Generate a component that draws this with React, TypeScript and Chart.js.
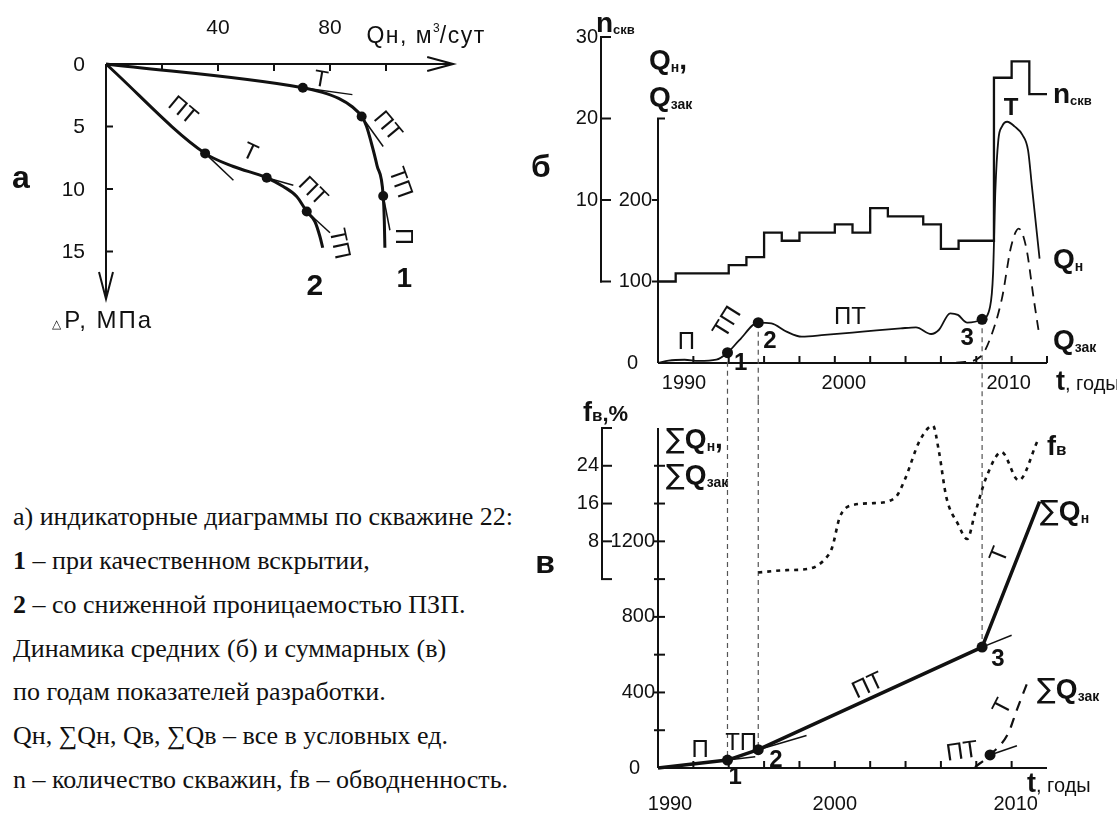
import React, { useEffect, useRef } from "react";
import { Chart, registerables } from "chart.js";

Chart.register(...registerables);

const SANS = '"Liberation Sans", Arial, Helvetica, sans-serif';
const SERIF = '"Liberation Serif", "Times New Roman", Times, serif';
const SIGMA_FONT = '"DejaVu Sans", "Liberation Sans", sans-serif';
const INK = "#111";

// ---------------- а: indicator diagrams (Q, m3/day vs dP, MPa) ----------------
const A_Q_TICKS = [20, 40, 60, 80, 100];
const A_Q_TICK_LABELS = [40, 80];
const A_P_TICKS = [5, 10, 15];
const A_P_TICK_LABELS = [0, 5, 10, 15];
const A_CURVE1_Q = [0, 70.3, 77.3, 83.1, 87.8, 91.3, 93.0, 94.7, 96.8, 99.0, 99.4, 99.6];
const A_CURVE1_P = [0, 1.9, 2.27, 2.75, 3.4, 4.2, 4.96, 6.26, 8.13, 10.56, 12.6, 14.7];
const A_CURVE1_DOTS = [1, 5, 9];
const A_CURVE2_Q = [0, 35.4, 45.5, 57.4, 63.3, 68.1, 71.7, 74.6, 76.4, 77.4];
const A_CURVE2_P = [0, 7.15, 8.2, 9.1, 9.8, 10.6, 11.8, 12.6, 13.8, 14.7];
const A_CURVE2_DOTS = [1, 3, 6];
const A_TANGENT_Q = [[70.3, 88], [91.3, 99], [99.0, 101.4], [35.4, 45.5], [57.4, 66.9], [71.7, 80]];
const A_TANGENT_P = [[1.9, 2.45], [4.2, 6.6], [10.56, 13.3], [7.15, 9.3], [9.1, 9.7], [11.8, 13.5]];

// ---------------- б: yearly averages ----------------
const YEAR_LABELS = [1990, 2000, 2010];
const B_YEAR_TICKS = [1992, 1994, 1996, 1998, 2000, 2002, 2004, 2006, 2008, 2010, 2012];
const B_Q_TICKS = [100, 200];
const B_N_TICKS = [0, 10, 20, 30];
const B_N_TICK_LABELS = [10, 20, 30];
const B_QN_YEARS = [1990, 1990.6, 1991.5, 1992.3, 1993.3, 1993.93, 1994.6, 1995.67, 1996.41, 1997.27, 1998.13, 1999.42, 2001.57, 2003.73, 2004.59, 2005.45, 2005.88, 2006.53, 2006.96, 2007.49, 2008.33, 2008.78, 2008.95, 2009.08, 2009.25, 2009.45, 2009.75, 2010.18, 2010.61, 2010.93, 2011.15, 2011.58];
const B_QN = [0, 3, 4, 2.5, 4, 12.6, 28, 49.5, 48.6, 38.5, 32.3, 34.4, 38.4, 42.5, 43.8, 35.6, 40.5, 61, 59, 49.5, 53.6, 69, 110, 212, 274, 290, 296, 290, 280, 261, 216, 128];
const B_KEY_POINTS = [5, 7, 20];
const B_QZ_YEARS = [2005.9, 2007.2, 2008.25, 2008.75, 2009.45, 2009.97, 2010.4, 2010.83, 2011.26, 2011.58];
const B_QZ = [0, 1, 8, 28, 79, 143, 165, 141, 77, 32];
const B_N_YEARS = [1990, 1991, 1994, 1995, 1996, 1997, 1998, 2000, 2001, 2002, 2003, 2005, 2006, 2007, 2009, 2010, 2011, 2012];
const B_N = [0, 1, 2, 3, 6, 5, 6, 7, 6, 9, 8, 7, 4, 5, 25, 27, 23, 23];

// ---------------- в: cumulative values ----------------
const C_YEAR_TICKS = [1992, 1994, 1996, 1998, 2000, 2002, 2004, 2006, 2008, 2010];
const C_SUM_TICKS = [200, 400, 600, 800, 1000, 1200, 1400, 1600];
const C_SUM_TICK_LABELS = [400, 800, 1200];
const C_F_TICKS = [0, 8, 16, 24, 32];
const C_F_TICK_LABELS = [8, 16, 24];
const C_SUMN_YEARS = [1990, 1993.93, 1995.67, 2008.33, 2011.58];
const C_SUMN = [0, 42, 97, 640, 1410];
const C_SUMN_DOTS = [1, 2, 3];
const C_SUMZ_YEARS = [2007.93, 2008.78, 2009.81, 2010.29, 2010.95];
const C_SUMZ = [5, 69, 184, 307, 466];
const C_SUMZ_DOTS = [1];
const C_F_YEARS = [1995.67, 1997.27, 1998.56, 1999.53, 1999.85, 2000.28, 2000.92, 2002.22, 2003.4, 2003.94, 2004.8, 2005.55, 2005.88, 2006.31, 2006.96, 2007.49, 2007.92, 2008.57, 2009.43, 2010.4, 2011.47];
const C_F = [1.4, 1.9, 2.2, 4.6, 6.7, 13.1, 15.6, 16.1, 17.2, 20.9, 29.3, 32.5, 27.2, 17.3, 11.7, 8.5, 13.8, 21.6, 26.9, 20.9, 29.3];
const C_TANGENT_YEARS = [[1993.93, 1995.5], [1995.67, 1998.4], [2008.33, 2010], [2008.78, 2010.3]];
const C_TANGENT_SUM = [[42, 59], [97, 172], [640, 703], [69, 118]];

const CAPTION_LINES = [
  { bold: "", text: "а) индикаторные диаграммы по скважине 22:" },
  { bold: "1", text: " – при качественном вскрытии," },
  { bold: "2", text: " – со сниженной проницаемостью ПЗП." },
  { bold: "", text: "Динамика средних (б) и суммарных (в)" },
  { bold: "", text: "по годам показателей разработки." },
  { bold: "", text: "Qн, ∑Qн, Qв, ∑Qв – все в условных ед." },
  { bold: "", text: "n – количество скважин, fв – обводненность." },
];

// ---------------- helpers ----------------
const pts = (xs: number[], ys: number[]) => xs.map((x, i) => ({ x, y: ys[i] }));
const font = (size: number, bold = false) => `${bold ? "bold " : ""}${size}px ${SANS}`;

function seg(ctx: CanvasRenderingContext2D, x1: number, y1: number, x2: number, y2: number) {
  ctx.beginPath();
  ctx.moveTo(x1, y1);
  ctx.lineTo(x2, y2);
  ctx.stroke();
}

type Part = { t: string; f: string; dy?: number; ls?: number };
function rich(ctx: CanvasRenderingContext2D, x: number, y: number, parts: Part[], align = "left") {
  ctx.save();
  ctx.textBaseline = "alphabetic";
  ctx.textAlign = "left";
  const c: any = ctx;
  const widths = parts.map((p) => {
    ctx.font = p.f;
    c.letterSpacing = `${p.ls || 0}px`;
    return ctx.measureText(p.t).width;
  });
  const w = widths.reduce((a, b) => a + b, 0);
  let cx = align === "left" ? x : align === "center" ? x - w / 2 : x - w;
  parts.forEach((p, i) => {
    ctx.font = p.f;
    c.letterSpacing = `${p.ls || 0}px`;
    ctx.fillText(p.t, cx, y + (p.dy || 0));
    cx += widths[i];
  });
  c.letterSpacing = "0px";
  ctx.restore();
}

function rotText(ctx: CanvasRenderingContext2D, t: string, x: number, y: number, deg: number, f: string) {
  ctx.save();
  ctx.translate(x, y);
  ctx.rotate((deg * Math.PI) / 180);
  ctx.font = f;
  ctx.textAlign = "center";
  ctx.textBaseline = "middle";
  ctx.fillText(t, 0, 0);
  ctx.restore();
}

function arrowHead(ctx: CanvasRenderingContext2D, tx: number, ty: number, dx: number, dy: number, len: number, half: number) {
  const bx = tx - dx * len, by = ty - dy * len;
  const px = -dy * half, py = dx * half;
  ctx.beginPath();
  ctx.moveTo(bx + px, by + py);
  ctx.lineTo(tx, ty);
  ctx.lineTo(bx - px, by - py);
  ctx.stroke();
}

const baseOptions = (padding: any, scales: any) => ({
  responsive: false,
  maintainAspectRatio: false,
  animation: false,
  devicePixelRatio: 1,
  events: [],
  layout: { padding, autoPadding: false },
  plugins: { legend: { display: false }, tooltip: { enabled: false }, colors: { enabled: false } },
  scales,
});

const lineDs = (data: any, extra: any = {}) => ({
  data,
  borderColor: INK,
  backgroundColor: INK,
  pointBackgroundColor: INK,
  pointBorderWidth: 0,
  pointRadius: 0,
  fill: false,
  clip: false,
  tension: 0,
  ...extra,
});

// ---------------- panel а ----------------
function makeA() {
  const draw = {
    id: "drawA",
    beforeDatasetsDraw(chart: any) {
      const ctx = chart.ctx as CanvasRenderingContext2D;
      const X = (v: number) => chart.scales.x.getPixelForValue(v);
      const Y = (v: number) => chart.scales.y.getPixelForValue(v);
      ctx.save();
      ctx.strokeStyle = INK;
      ctx.fillStyle = INK;
      ctx.lineWidth = 2;
      seg(ctx, X(0), Y(0), X(124), Y(0));
      arrowHead(ctx, X(124), Y(0), 1, 0, 26, 7);
      A_Q_TICKS.forEach((v) => seg(ctx, X(v), Y(0), X(v), Y(0) + 7));
      seg(ctx, X(0), Y(0), X(0), Y(18.8));
      arrowHead(ctx, X(0), Y(18.8), 0, 1, 27, 7);
      A_P_TICKS.forEach((v) => seg(ctx, X(0), Y(v), X(0) + 7, Y(v)));
      ctx.font = font(21);
      ctx.textBaseline = "middle";
      ctx.textAlign = "right";
      A_P_TICK_LABELS.forEach((v) => ctx.fillText(String(v), X(0) - 21, Y(v) + 1));
      ctx.textAlign = "center";
      A_Q_TICK_LABELS.forEach((v) => ctx.fillText(String(v), X(v), Y(0) - 36));
      rich(ctx, X(93), Y(0) - 21, [
        { t: "Qн, м", f: font(23), ls: 1.5 },
        { t: "3", f: font(12), dy: -11 },
        { t: "/сут", f: font(23), ls: 1.5 },
      ]);
      rich(ctx, X(0) - 54, Y(18.8) + 29, [
        { t: "△ ", f: font(12) },
        { t: "P, МПа", f: font(24), ls: 2 },
      ]);
      ctx.restore();
    },
    afterDatasetsDraw(chart: any) {
      const ctx = chart.ctx as CanvasRenderingContext2D;
      const X = (v: number) => chart.scales.x.getPixelForValue(v);
      const Y = (v: number) => chart.scales.y.getPixelForValue(v);
      ctx.save();
      ctx.fillStyle = INK;
      const labels: [string, number, number, number][] = [
        ["Т", 76.7, 1.28, 10],
        ["ПТ", 100.5, 5.0, 50],
        ["ТП", 105, 9.5, 70],
        ["П", 106, 13.8, 90],
        ["ПТ", 27.3, 3.75, 40],
        ["Т", 51.4, 7.1, 25],
        ["ПТ", 73.75, 10.2, 45],
        ["ТП", 83.2, 14.4, 78],
      ];
      labels.forEach(([t, q, p, r]) => rotText(ctx, t, X(q), Y(p), r, font(23)));
      rich(ctx, X(106.5), Y(17.8), [{ t: "1", f: font(28, true) }], "center");
      rich(ctx, X(74.6), Y(18.5), [{ t: "2", f: font(30, true) }], "center");
      rich(ctx, X(0) - 94, Y(9.9), [{ t: "а", f: font(32, true) }]);
      ctx.restore();
    },
  };
  const datasets: any[] = [
    lineDs(pts(A_CURVE1_Q, A_CURVE1_P), {
      borderWidth: 3,
      cubicInterpolationMode: "monotone",
      pointRadius: (c: any) => (A_CURVE1_DOTS.includes(c.dataIndex) ? 5 : 0),
    }),
    lineDs(pts(A_CURVE2_Q, A_CURVE2_P), {
      borderWidth: 3,
      cubicInterpolationMode: "monotone",
      pointRadius: (c: any) => (A_CURVE2_DOTS.includes(c.dataIndex) ? 5 : 0),
    }),
    ...A_TANGENT_Q.map((qs, i) => lineDs(pts(qs, A_TANGENT_P[i]), { borderWidth: 1.5 })),
  ];
  return {
    type: "line",
    data: { datasets },
    options: baseOptions(
      { left: 106, top: 64, right: 520 - 106 - 121 * 2.8, bottom: 340 - 64 - 19 * 12.5 },
      {
        x: { type: "linear", min: 0, max: 121, display: false },
        y: { type: "linear", min: 0, max: 19, reverse: true, display: false },
      }
    ),
    plugins: [draw],
  };
}

// ---------------- panel б ----------------
function makeB() {
  const draw = {
    id: "drawB",
    beforeDatasetsDraw(chart: any) {
      const ctx = chart.ctx as CanvasRenderingContext2D;
      const X = (v: number) => chart.scales.x.getPixelForValue(v);
      const Y = (v: number) => chart.scales.y.getPixelForValue(v);
      const N = (v: number) => chart.scales.n.getPixelForValue(v);
      const x0 = X(1990);
      const xn = x0 - 57;
      ctx.save();
      ctx.strokeStyle = INK;
      ctx.fillStyle = INK;
      ctx.lineWidth = 2;
      seg(ctx, x0, Y(0), x0, Y(300));
      seg(ctx, x0 - 1, Y(300), x0 + 7, Y(300));
      B_Q_TICKS.forEach((v) => seg(ctx, x0 - 6, Y(v), x0, Y(v)));
      seg(ctx, xn, N(0) + 1, xn, N(30) - 1);
      B_N_TICKS.forEach((v) => seg(ctx, xn - 1, N(v), xn + 10, N(v)));
      seg(ctx, x0, Y(0), X(2012), Y(0));
      B_YEAR_TICKS.forEach((v) => seg(ctx, X(v), Y(0), X(v), Y(0) - 7));
      ctx.font = font(20);
      ctx.textBaseline = "middle";
      ctx.textAlign = "right";
      B_Q_TICKS.forEach((v) => ctx.fillText(String(v), x0 - 6, Y(v)));
      ctx.fillText("0", x0 - 20, Y(0));
      B_N_TICK_LABELS.forEach((v) => ctx.fillText(String(v), xn - 3, N(v)));
      ctx.textAlign = "center";
      const off = [26, 9, -3];
      YEAR_LABELS.forEach((v, i) => ctx.fillText(String(v), X(v) + off[i], Y(0) + 20));
      ctx.setLineDash([5, 4]);
      ctx.lineWidth = 1.2;
      ctx.strokeStyle = "#555";
      B_KEY_POINTS.forEach((i) => seg(ctx, X(B_QN_YEARS[i]), Y(B_QN[i]), X(B_QN_YEARS[i]), chart.height));
      ctx.restore();
    },
    afterDatasetsDraw(chart: any) {
      const ctx = chart.ctx as CanvasRenderingContext2D;
      const X = (v: number) => chart.scales.x.getPixelForValue(v);
      const Y = (v: number) => chart.scales.y.getPixelForValue(v);
      const x0 = X(1990);
      const xr = X(2012) + 6;
      ctx.save();
      ctx.fillStyle = INK;
      const bq = font(28, true);
      const bs = font(14, true);
      rich(ctx, x0 - 62, 32, [{ t: "n", f: bq }, { t: "скв", f: font(13, true), dy: 2 }]);
      rich(ctx, x0 - 9, 69, [{ t: "Q", f: bq }, { t: "н", f: bs, dy: 3 }, { t: ",", f: bq }]);
      rich(ctx, x0 - 9, 106, [{ t: "Q", f: bq }, { t: "зак", f: bs, dy: 3 }]);
      rich(ctx, x0 - 117, 177, [{ t: "б", f: font(32, true) }], "center");
      rich(ctx, xr, 103, [{ t: "n", f: bq }, { t: "скв", f: font(13, true), dy: 2 }]);
      rich(ctx, xr, 268, [{ t: "Q", f: bq }, { t: "н", f: bs, dy: 3 }]);
      rich(ctx, xr, 349, [{ t: "Q", f: bq }, { t: "зак", f: bs, dy: 3 }]);
      rich(ctx, xr + 3, 390, [{ t: "t", f: font(27, true) }, { t: ", годы", f: font(20) }]);
      const labels: [string, number, number, number][] = [
        ["П", 1991.6, 25, 0],
        ["ТП", 1993.93, 49.7, -58],
        ["ПТ", 2000.86, 56.4, 0],
      ];
      labels.forEach(([t, x, y, r]) => rotText(ctx, t, X(x), Y(y), r, font(24)));
      rotText(ctx, "Т", X(2009.97), Y(313), 0, font(24, true));
      const digits: [string, number, number][] = [
        ["1", 1994.68, -1],
        ["2", 1996.33, 26],
        ["3", 2007.48, 30.7],
      ];
      digits.forEach(([t, x, y]) => rotText(ctx, t, X(x), Y(y), 0, font(24, true)));
      ctx.restore();
    },
  };
  const datasets: any[] = [
    lineDs(pts(B_N_YEARS, B_N), { yAxisID: "n", borderWidth: 2.3, stepped: "before" }),
    lineDs(pts(B_QN_YEARS, B_QN), {
      borderWidth: 1.8,
      cubicInterpolationMode: "monotone",
      pointRadius: (c: any) => (B_KEY_POINTS.includes(c.dataIndex) ? 5.5 : 0),
    }),
    lineDs(pts(B_QZ_YEARS, B_QZ), { borderWidth: 1.8, borderDash: [10, 7], cubicInterpolationMode: "monotone" }),
  ];
  return {
    type: "line",
    data: { datasets },
    options: baseOptions(
      { left: 138, top: 37, right: 70, bottom: 37 },
      {
        x: { type: "linear", min: 1990, max: 2012, display: false },
        y: { type: "linear", min: 0, max: 400, display: false },
        n: { type: "linear", axis: "y", position: "left", min: -10, max: 30, display: false },
      }
    ),
    plugins: [draw],
  };
}

// ---------------- panel в ----------------
function makeC() {
  const draw = {
    id: "drawC",
    beforeDatasetsDraw(chart: any) {
      const ctx = chart.ctx as CanvasRenderingContext2D;
      const X = (v: number) => chart.scales.x.getPixelForValue(v);
      const Y = (v: number) => chart.scales.y.getPixelForValue(v);
      const F = (v: number) => chart.scales.f.getPixelForValue(v);
      const x0 = X(1990);
      const xf = x0 - 56;
      ctx.save();
      ctx.strokeStyle = INK;
      ctx.fillStyle = INK;
      ctx.lineWidth = 2;
      seg(ctx, xf, F(0) + 1, xf, F(32) - 1);
      C_F_TICKS.forEach((v) => seg(ctx, xf - 1, F(v), xf + 10, F(v)));
      seg(ctx, x0, Y(0), x0, Y(1800));
      C_SUM_TICKS.forEach((v) => seg(ctx, x0 - 4, Y(v), x0 + 7, Y(v)));
      seg(ctx, x0, Y(0), X(2012), Y(0));
      C_YEAR_TICKS.forEach((v) => seg(ctx, X(v), Y(0), X(v), Y(0) - 7));
      ctx.font = font(20);
      ctx.textBaseline = "middle";
      ctx.textAlign = "right";
      C_F_TICK_LABELS.forEach((v) => ctx.fillText(String(v), xf - 3, F(v)));
      C_SUM_TICK_LABELS.forEach((v) => ctx.fillText(String(v), x0 - 3, Y(v)));
      ctx.fillText("0", x0 - 18, Y(0));
      ctx.textAlign = "center";
      const off = [12, 0, 4];
      YEAR_LABELS.forEach((v, i) => ctx.fillText(String(v), X(v) + off[i], Y(0) + 36));
      ctx.setLineDash([5, 4]);
      ctx.lineWidth = 1.2;
      ctx.strokeStyle = "#555";
      C_SUMN_DOTS.forEach((i) => seg(ctx, X(C_SUMN_YEARS[i]), 0, X(C_SUMN_YEARS[i]), Y(C_SUMN[i])));
      ctx.restore();
    },
    afterDatasetsDraw(chart: any) {
      const ctx = chart.ctx as CanvasRenderingContext2D;
      const X = (v: number) => chart.scales.x.getPixelForValue(v);
      const Y = (v: number) => chart.scales.y.getPixelForValue(v);
      const x0 = X(1990);
      ctx.save();
      ctx.fillStyle = INK;
      const bq = font(28, true);
      const bs = font(14, true);
      const sig = `28px ${SIGMA_FONT}`;
      rich(ctx, x0 - 75, 21, [{ t: "f", f: font(27, true) }, { t: "в", f: font(17, true) }, { t: ",%", f: font(22, true) }]);
      rich(ctx, x0 + 8, 48, [{ t: "∑", f: sig }, { t: "Q", f: bq }, { t: "н", f: bs, dy: 3 }, { t: ",", f: bq }]);
      rich(ctx, x0 + 8, 84, [{ t: "∑", f: sig }, { t: "Q", f: bq }, { t: "зак", f: bs, dy: 3 }]);
      rich(ctx, x0 - 113, 173, [{ t: "в", f: font(32, true) }], "center");
      const xr = X(2012);
      rich(ctx, xr, 55, [{ t: "f", f: font(27, true) }, { t: "в", f: font(17, true) }]);
      rich(ctx, xr - 7, 120, [{ t: "∑", f: sig }, { t: "Q", f: bq }, { t: "н", f: bs, dy: 3 }]);
      rich(ctx, xr - 10, 298, [{ t: "∑", f: sig }, { t: "Q", f: bq }, { t: "зак", f: bs, dy: 3 }]);
      rich(ctx, xr - 20, 392, [{ t: "t", f: font(27, true) }, { t: ", годы", f: font(20) }]);
      const labels: [string, number, number, number][] = [
        ["П", 1992.38, 95, 0],
        ["ТП", 1994.7, 132, 0],
        ["ПТ", 2001.88, 434, -25],
        ["Т", 2009.34, 1128, -68],
        ["Т", 2009.51, 323, -63],
        ["ПТ", 2007.2, 85, -8],
      ];
      labels.forEach(([t, x, y, r]) => rotText(ctx, t, X(x), Y(y), r, font(24)));
      const digits: [string, number, number][] = [
        ["1", 1994.36, -48],
        ["2", 1996.67, 42],
        ["3", 2009.23, 577],
      ];
      digits.forEach(([t, x, y]) => rotText(ctx, t, X(x), Y(y), 0, font(24, true)));
      ctx.restore();
    },
  };
  const datasets: any[] = [
    lineDs(pts(C_F_YEARS, C_F), {
      yAxisID: "f",
      borderWidth: 2.6,
      borderDash: [4, 5],
      cubicInterpolationMode: "monotone",
    }),
    lineDs(pts(C_SUMN_YEARS, C_SUMN), {
      borderWidth: 3.5,
      pointRadius: (c: any) => (C_SUMN_DOTS.includes(c.dataIndex) ? 5.5 : 0),
    }),
    lineDs(pts(C_SUMZ_YEARS, C_SUMZ), {
      borderWidth: 2.2,
      borderDash: [10, 8],
      cubicInterpolationMode: "monotone",
      pointRadius: (c: any) => (C_SUMZ_DOTS.includes(c.dataIndex) ? 5.5 : 0),
    }),
    ...C_TANGENT_YEARS.map((ys, i) => lineDs(pts(ys, C_TANGENT_SUM[i]), { borderWidth: 1.5 })),
  ];
  return {
    type: "line",
    data: { datasets },
    options: baseOptions(
      { left: 138, top: 28, right: 70, bottom: 46 },
      {
        x: { type: "linear", min: 1990, max: 2012, display: false },
        y: { type: "linear", min: 0, max: 1800, display: false },
        f: { type: "linear", axis: "y", position: "left", min: -40, max: 32, display: false },
      }
    ),
    plugins: [draw],
  };
}

function PanelChart({ left, top, width, height, make }: any) {
  const ref = useRef<HTMLCanvasElement | null>(null);
  useEffect(() => {
    if (!ref.current) return;
    const chart = new Chart(ref.current, make());
    return () => chart.destroy();
  }, []);
  return (
    <div style={{ position: "absolute", left, top, width, height }}>
      <canvas ref={ref} width={width} height={height} style={{ width, height, display: "block" }} />
    </div>
  );
}

export default function App() {
  return (
    <div
      style={{
        position: "absolute",
        left: 0,
        top: 0,
        width: 1117,
        height: 814,
        background: "#fff",
        overflow: "hidden",
        color: INK,
      }}
    >
      <PanelChart left={0} top={0} width={520} height={340} make={makeA} />
      <PanelChart left={520} top={0} width={597} height={400} make={makeB} />
      <PanelChart left={520} top={400} width={597} height={414} make={makeC} />
      {CAPTION_LINES.map((l, i) => (
        <div
          key={i}
          style={{
            position: "absolute",
            left: 13,
            top: 526 + i * 43.8 - 21.8,
            fontFamily: SERIF,
            fontSize: 26,
            lineHeight: "26px",
            whiteSpace: "nowrap",
          }}
        >
          {l.bold ? <b>{l.bold}</b> : null}
          {l.text}
        </div>
      ))}
    </div>
  );
}
